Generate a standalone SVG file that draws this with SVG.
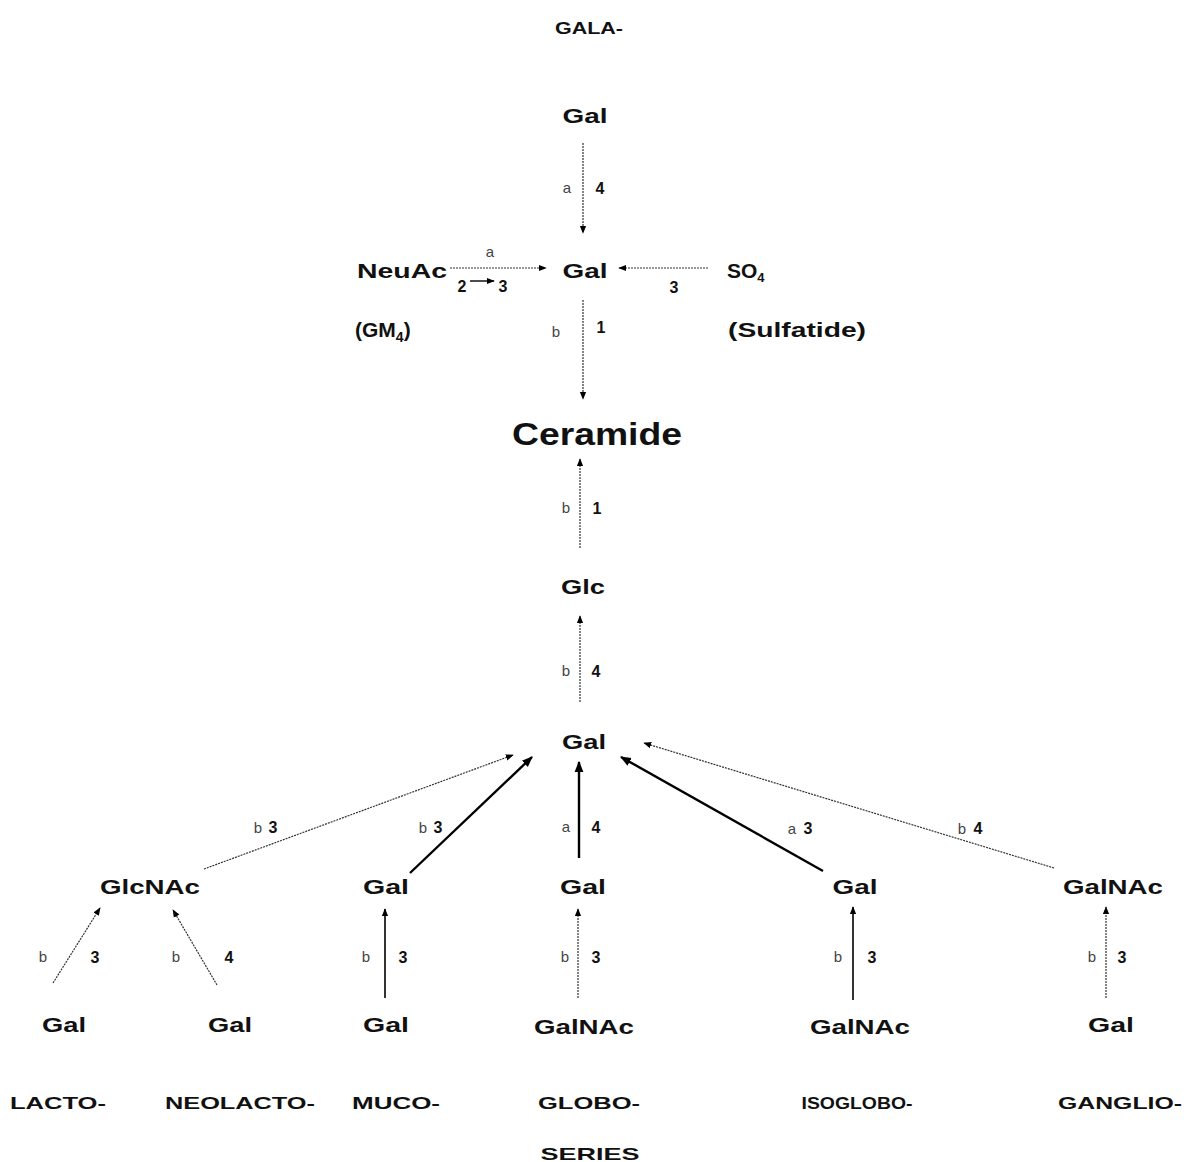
<svg xmlns="http://www.w3.org/2000/svg" width="1184" height="1162" viewBox="0 0 1184 1162">
<style>
text{font-family:"Liberation Sans",Arial,sans-serif;font-weight:bold;fill:#111}
.n{font-size:21px;text-anchor:middle}
.s{font-size:17px;text-anchor:middle}
.l{font-size:16px;text-anchor:middle}
.g{font-size:15px;font-weight:normal;fill:#444;text-anchor:middle}
.thin{stroke:#333;stroke-width:1.2;stroke-dasharray:2 1;fill:none}
.thick{stroke:#000;stroke-width:2.4;fill:none}
.solid{stroke:#000;stroke-width:1.6;fill:none}
</style>
<defs>
<marker id="ah" viewBox="0 0 10 10" refX="9" refY="5" markerWidth="8" markerHeight="8" markerUnits="userSpaceOnUse" orient="auto"><path d="M0,1 L10,5 L0,9 z" fill="#000"/></marker>
<marker id="ahb" viewBox="0 0 10 10" refX="9" refY="5" markerWidth="11" markerHeight="11" markerUnits="userSpaceOnUse" orient="auto"><path d="M0,1 L10,5 L0,9 z" fill="#000"/></marker>
</defs>
<rect width="1184" height="1162" fill="#fff"/>
<g id="connectors">
<line class="thin" x1="583" y1="143" x2="583" y2="233" marker-end="url(#ah)"/>
<line class="thin" x1="450" y1="268" x2="546" y2="268" marker-end="url(#ah)"/>
<line class="thin" x1="708" y1="268" x2="619" y2="268" marker-end="url(#ah)"/>
<line class="thin" x1="583" y1="300" x2="583" y2="399" marker-end="url(#ah)"/>
<line class="thin" x1="580" y1="548" x2="580" y2="459" marker-end="url(#ah)"/>
<line class="thin" x1="580" y1="702" x2="580" y2="616" marker-end="url(#ah)"/>
<line class="thin" x1="204" y1="869" x2="513" y2="755" marker-end="url(#ah)"/>
<line class="thick" x1="410" y1="873" x2="532" y2="757" marker-end="url(#ahb)"/>
<line class="thick" x1="579" y1="858" x2="579" y2="762" marker-end="url(#ahb)"/>
<line class="thick" x1="823" y1="871" x2="621" y2="757" marker-end="url(#ahb)"/>
<line class="thin" x1="1054" y1="868" x2="644" y2="743" marker-end="url(#ah)"/>
<line class="thin" x1="53" y1="983" x2="100" y2="908" marker-end="url(#ah)"/>
<line class="thin" x1="217" y1="985" x2="173" y2="910" marker-end="url(#ah)"/>
<line class="solid" x1="385" y1="998" x2="385" y2="909" marker-end="url(#ah)"/>
<line class="thin" x1="578" y1="998" x2="578" y2="909" marker-end="url(#ah)"/>
<line class="solid" x1="853" y1="1000" x2="853" y2="907" marker-end="url(#ah)"/>
<line class="thin" x1="1106" y1="998" x2="1106" y2="907" marker-end="url(#ah)"/>
<line x1="470" y1="281" x2="494" y2="281" stroke="#000" stroke-width="1.4" marker-end="url(#ah)"/>
</g>
<g id="link-labels">
<text class="g" x="567" y="193">a</text><text class="l" x="600" y="194">4</text>
<text class="g" x="490" y="257">a</text>
<text class="l" x="462" y="292">2</text><text class="l" x="503" y="292">3</text>
<text class="l" x="674" y="293">3</text>
<text class="g" x="556" y="337">b</text><text class="l" x="601" y="333">1</text>
<text class="g" x="566" y="513">b</text><text class="l" x="597" y="514">1</text>
<text class="g" x="566" y="676">b</text><text class="l" x="596" y="677">4</text>
<text class="g" x="258" y="833">b</text><text class="l" x="273" y="833">3</text>
<text class="g" x="423" y="833">b</text><text class="l" x="438" y="833">3</text>
<text class="g" x="566" y="832">a</text><text class="l" x="596" y="833">4</text>
<text class="g" x="792" y="834">a</text><text class="l" x="808" y="834">3</text>
<text class="g" x="962" y="834">b</text><text class="l" x="978" y="834">4</text>
<text class="g" x="43" y="962">b</text><text class="l" x="95" y="963">3</text>
<text class="g" x="176" y="962">b</text><text class="l" x="229" y="963">4</text>
<text class="g" x="366" y="962">b</text><text class="l" x="403" y="963">3</text>
<text class="g" x="565" y="962">b</text><text class="l" x="596" y="963">3</text>
<text class="g" x="838" y="962">b</text><text class="l" x="872" y="963">3</text>
<text class="g" x="1092" y="962">b</text><text class="l" x="1122" y="963">3</text>
</g>
<g id="title"><text class="s" x="589" y="34" textLength="68" lengthAdjust="spacingAndGlyphs">GALA-</text></g>
<g id="gal-top"><text class="n" x="585" y="123" textLength="45" lengthAdjust="spacingAndGlyphs">Gal</text></g>
<g id="neuac"><text class="n" x="402" y="278" textLength="90" lengthAdjust="spacingAndGlyphs">NeuAc</text></g>
<g id="gal-mid"><text class="n" x="585" y="278" textLength="45" lengthAdjust="spacingAndGlyphs">Gal</text></g>
<g id="so4"><text x="727" y="278" font-size="21">SO<tspan font-size="13" dy="4">4</tspan></text></g>
<g id="gm4"><text x="355" y="337" font-size="21">(GM<tspan font-size="14" dy="5">4</tspan><tspan dy="-5">)</tspan></text></g>
<g id="sulfatide"><text class="n" x="797" y="337" textLength="138" lengthAdjust="spacingAndGlyphs">(Sulfatide)</text></g>
<g id="ceramide"><text x="597" y="445" font-size="31" text-anchor="middle" textLength="170" lengthAdjust="spacingAndGlyphs">Ceramide</text></g>
<g id="glc"><text class="n" x="583" y="594" textLength="44" lengthAdjust="spacingAndGlyphs">Glc</text></g>
<g id="gal-center"><text class="n" x="584" y="749" textLength="44" lengthAdjust="spacingAndGlyphs">Gal</text></g>
<g id="glcnac"><text class="n" x="150" y="894" textLength="100" lengthAdjust="spacingAndGlyphs">GlcNAc</text></g>
<g id="gal-muco"><text class="n" x="386" y="894" textLength="46" lengthAdjust="spacingAndGlyphs">Gal</text></g>
<g id="gal-globo"><text class="n" x="583" y="894" textLength="46" lengthAdjust="spacingAndGlyphs">Gal</text></g>
<g id="gal-isoglobo"><text class="n" x="855" y="894" textLength="45" lengthAdjust="spacingAndGlyphs">Gal</text></g>
<g id="galnac-ganglio"><text class="n" x="1113" y="894" textLength="100" lengthAdjust="spacingAndGlyphs">GalNAc</text></g>
<g id="gal-lacto"><text class="n" x="64" y="1032" textLength="44" lengthAdjust="spacingAndGlyphs">Gal</text></g>
<g id="gal-neolacto"><text class="n" x="230" y="1032" textLength="44" lengthAdjust="spacingAndGlyphs">Gal</text></g>
<g id="gal-muco2"><text class="n" x="386" y="1032" textLength="46" lengthAdjust="spacingAndGlyphs">Gal</text></g>
<g id="galnac-globo"><text class="n" x="584" y="1034" textLength="100" lengthAdjust="spacingAndGlyphs">GalNAc</text></g>
<g id="galnac-isoglobo"><text class="n" x="860" y="1034" textLength="100" lengthAdjust="spacingAndGlyphs">GalNAc</text></g>
<g id="gal-ganglio"><text class="n" x="1111" y="1032" textLength="46" lengthAdjust="spacingAndGlyphs">Gal</text></g>
<g id="series">
<text class="s" x="58" y="1109" textLength="96" lengthAdjust="spacingAndGlyphs">LACTO-</text>
<text class="s" x="240" y="1109" textLength="150" lengthAdjust="spacingAndGlyphs">NEOLACTO-</text>
<text class="s" x="396" y="1109" textLength="88" lengthAdjust="spacingAndGlyphs">MUCO-</text>
<text class="s" x="589" y="1109" textLength="102" lengthAdjust="spacingAndGlyphs">GLOBO-</text>
<text class="s" x="590" y="1160" textLength="99" lengthAdjust="spacingAndGlyphs">SERIES</text>
<text class="s" x="857" y="1109" textLength="111" lengthAdjust="spacingAndGlyphs">ISOGLOBO-</text>
<text class="s" x="1120" y="1109" textLength="124" lengthAdjust="spacingAndGlyphs">GANGLIO-</text>
</g>
</svg>
